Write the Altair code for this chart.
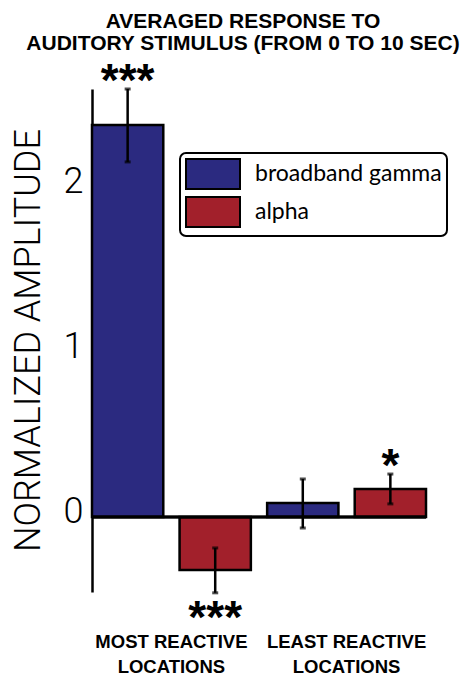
import altair as alt
import pandas as pd

# ---- data ----
groups = ["MOST REACTIVE LOCATIONS", "MOST REACTIVE LOCATIONS",
          "LEAST REACTIVE LOCATIONS", "LEAST REACTIVE LOCATIONS"]
bands = ["broadband gamma", "alpha", "broadband gamma", "alpha"]
values = [2.376, -0.321, 0.085, 0.170]
err_low = [2.152, -0.460, -0.067, 0.079]
err_high = [2.594, -0.188, 0.230, 0.260]
stars = ["***", "***", "", "*"]

group_order = ["MOST REACTIVE LOCATIONS", "LEAST REACTIVE LOCATIONS"]
band_order = ["broadband gamma", "alpha"]
band_colors = ["#2B2A80", "#A2202B"]
y_ticks = [0, 1, 2]
y_domain = [-0.455, 2.594]

title_lines = ["AVERAGED RESPONSE TO", "AUDITORY STIMULUS (FROM 0 TO 10 SEC)"]
y_title = "NORMALIZED AMPLITUDE"

df = pd.DataFrame({
    "group": groups,
    "band": bands,
    "value": values,
    "lo": err_low,
    "hi": err_high,
    "stars": stars,
})
df["star_y"] = [h if v > 0 else l for v, h, l in zip(values, err_high, err_low)]
df["side"] = ["above" if v > 0 else "below" for v in values]

x_enc = alt.X(
    "group:N", sort=group_order,
    scale=alt.Scale(paddingInner=0.093, paddingOuter=0),
    axis=alt.Axis(
        title=None, domain=False, ticks=False, labelAngle=0, labelLimit=0,
        labelExpr="[replace(datum.label, ' LOCATIONS', ''), 'LOCATIONS']",
        labelFont="Liberation Sans", labelFontSize=18.5,
        labelFontWeight="bold", labelColor="black", labelPadding=55,
        labelBaseline="alphabetic", labelLineHeight=25,
    ),
)
xo_enc = alt.XOffset("band:N", sort=band_order,
                     scale=alt.Scale(paddingInner=0.186, paddingOuter=0))
y_scale = alt.Scale(domain=y_domain, nice=False, zero=False)

base = alt.Chart(df)

bars = base.mark_bar(stroke="black", strokeWidth=2.5, opacity=1).encode(
    x=x_enc,
    xOffset=xo_enc,
    y=alt.Y("value:Q", scale=y_scale, axis=alt.Axis(
        values=y_ticks, format="d", title=y_title, ticks=False, grid=False,
        domainColor="black", domainWidth=2.5,
        labelFont="Roboto", labelFontWeight=300, labelFontSize=36,
        labelColor="black", labelPadding=9, labelOffset=-5,
        titleFont="Roboto", titleFontWeight=300, titleFontSize=36,
        titleColor="black", titleAngle=270, titleX=-64, titleY=251,
        titleAlign="center", titleBaseline="middle",
    )),
    y2=alt.datum(0),
    color=alt.Color("band:N", sort=band_order,
                    scale=alt.Scale(domain=band_order, range=band_colors),
                    legend=alt.Legend(
                        title=None, orient="none", legendX=88, legendY=64,
                        symbolType="M-1,-1H2.6V1H-1Z", symbolSize=900,
                        symbolStrokeColor="black", symbolStrokeWidth=2,
                        symbolOpacity=1, labelFont="Lato", labelFontSize=23,
                        labelColor="black", labelOffset=38, rowPadding=0,
                        labelLimit=0,
                    )),
)

zero_line = base.mark_rule(color="black", strokeWidth=2.5).encode(
    y=alt.datum(0, scale=y_scale)
)

err = base.mark_rule(color="black", strokeWidth=2.5).encode(
    x=x_enc, xOffset=xo_enc,
    y=alt.Y("lo:Q", scale=y_scale), y2="hi:Q",
)
cap_hi = base.mark_tick(color="black", size=6, thickness=3, orient="horizontal").encode(
    x=x_enc, xOffset=xo_enc, y=alt.Y("hi:Q", scale=y_scale))
cap_lo = base.mark_tick(color="black", size=6, thickness=3, orient="horizontal").encode(
    x=x_enc, xOffset=xo_enc, y=alt.Y("lo:Q", scale=y_scale))

star_above = base.transform_filter("datum.side == 'above'").mark_text(
    font="Liberation Sans", fontWeight="bold", fontSize=46, color="black",
    baseline="middle", align="center", dy=-7,
).encode(x=x_enc, xOffset=xo_enc, y=alt.Y("star_y:Q", scale=y_scale), text="stars:N")

star_below = base.transform_filter("datum.side == 'below'").mark_text(
    font="Liberation Sans", fontWeight="bold", fontSize=46, color="black",
    baseline="middle", align="center", dy=26,
).encode(x=x_enc, xOffset=xo_enc, y=alt.Y("star_y:Q", scale=y_scale), text="stars:N")

chart = alt.layer(bars, zero_line, err, cap_hi, cap_lo, star_above, star_below).properties(
    width=334, height=503,
    autosize=alt.AutoSizeParams(type="none"),
    padding={"left": 84, "top": 81, "right": 36, "bottom": 86},
    title=alt.TitleParams(
        text=title_lines, font="Liberation Sans", fontSize=21, fontWeight="bold",
        color="black", anchor="middle", frame="group", dx=-16, offset=5,
        lineHeight=22,
    ),
).configure_view(stroke=None).configure_axis(grid=False).configure_legend(
    strokeColor="black", strokeWidth=2, cornerRadius=6, fillColor="white", padding=5,
)

chart.save("out.html", embed_options={"renderer": "svg", "actions": False})
